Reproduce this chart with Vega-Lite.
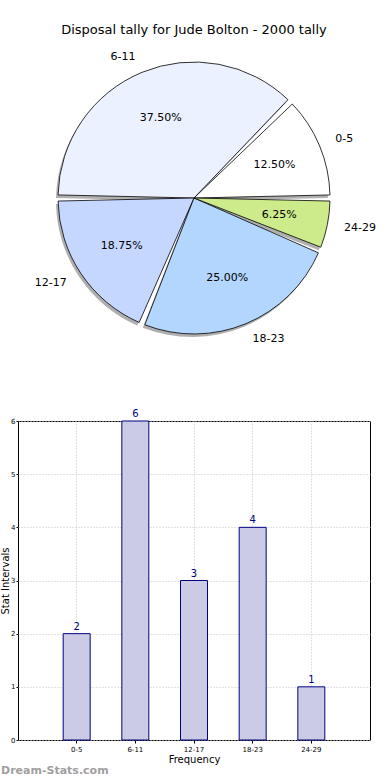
{
  "$schema": "https://vega.github.io/schema/vega-lite/v6.json",
  "padding": {"top": 24, "left": 0, "right": 0, "bottom": 0},
  "background": "white",
  "config": {"font": "DejaVu Sans"},
  "title": {"text": "Disposal tally for Jude Bolton - 2000 tally", "fontSize": 13, "fontWeight": "normal", "color": "black", "offset": 11, "anchor": "middle", "frame": "group"},
  "datasets": {
    "tally": [
      {"interval": "0-5", "lower": 0, "count": 2},
      {"interval": "6-11", "lower": 6, "count": 6},
      {"interval": "12-17", "lower": 12, "count": 3},
      {"interval": "18-23", "lower": 18, "count": 4},
      {"interval": "24-29", "lower": 24, "count": 1}
    ]
  },
  "spacing": 60,
  "vconcat": [
    {
      "width": 352,
      "height": 300,
      "view": {"stroke": null},
      "data": {"name": "tally"},
      "transform": [
        {"stack": "count", "groupby": [], "offset": "normalize", "sort": [{"field": "lower", "order": "descending"}], "as": ["t0", "t1"]},
        {"calculate": "(datum.t0 + datum.t1) / 2", "as": "tm"},
        {"calculate": "datum.t1 - datum.t0", "as": "share"}
      ],
      "layer": [
        {
          "mark": {"type": "arc", "outerRadius": 136, "padAngle": 0.045, "fill": "#7a7a7a", "opacity": 0.6, "xOffset": -2, "yOffset": 3},
          "encoding": {
            "theta": {"field": "t0", "type": "quantitative", "stack": null, "scale": {"domain": [0, 1], "range": [1.5707963, 7.8539816]}},
            "theta2": {"field": "t1"}
          }
        },
        {
          "mark": {"type": "arc", "outerRadius": 136, "padAngle": 0.045, "stroke": "black", "strokeWidth": 0.8},
          "encoding": {
            "theta": {"field": "t0", "type": "quantitative", "stack": null, "scale": {"domain": [0, 1], "range": [1.5707963, 7.8539816]}},
            "theta2": {"field": "t1"},
            "color": {"field": "interval", "type": "nominal", "legend": null, "scale": {"domain": ["0-5", "6-11", "12-17", "18-23", "24-29"], "range": ["#ffffff", "#ebf1ff", "#c5d7ff", "#b3d6ff", "#cdeb8b"]}}
          }
        },
        {
          "mark": {"type": "text", "radius": 87, "fontSize": 11, "color": "black", "align": "center", "baseline": "middle"},
          "encoding": {
            "theta": {"field": "tm", "type": "quantitative", "stack": null, "scale": {"domain": [0, 1], "range": [1.5707963, 7.8539816]}},
            "text": {"field": "share", "type": "quantitative", "format": ".2%"}
          }
        },
        {
          "transform": [{"filter": {"field": "interval", "oneOf": ["0-5", "24-29", "18-23"]}}],
          "mark": {"type": "text", "radius": 153, "fontSize": 11, "color": "black", "align": "left", "baseline": "middle"},
          "encoding": {
            "theta": {"field": "tm", "type": "quantitative", "stack": null, "scale": {"domain": [0, 1], "range": [1.5707963, 7.8539816]}},
            "text": {"field": "interval", "type": "nominal"}
          }
        },
        {
          "transform": [{"filter": {"field": "interval", "oneOf": ["6-11", "12-17"]}}],
          "mark": {"type": "text", "radius": 153, "fontSize": 11, "color": "black", "align": "right", "baseline": "middle"},
          "encoding": {
            "theta": {"field": "tm", "type": "quantitative", "stack": null, "scale": {"domain": [0, 1], "range": [1.5707963, 7.8539816]}},
            "text": {"field": "interval", "type": "nominal"}
          }
        }
      ]
    },
    {
      "width": 352,
      "height": 319,
      "view": {"stroke": "black", "strokeWidth": 1},
      "data": {"name": "tally"},
      "title": {"text": "Dream-Stats.com", "orient": "bottom", "anchor": "start", "frame": "group", "fontSize": 11, "fontWeight": "bold", "color": "#a0a0a0", "dx": -17, "offset": 1},
      "encoding": {
        "x": {
          "field": "interval", "type": "nominal",
          "sort": ["0-5", "6-11", "12-17", "18-23", "24-29"],
          "scale": {"paddingInner": 0.54, "paddingOuter": 0.77},
          "axis": {"title": "Frequency", "titleFontSize": 10, "titleFontWeight": "normal", "titleColor": "black", "titlePadding": 2, "labelFontSize": 7, "labelColor": "black", "labelAngle": 0, "labelPadding": 2, "tickSize": 3, "tickColor": "black", "domain": false, "grid": true, "gridColor": "#c4c4c4", "gridDash": [1, 2], "bandPosition": 0.5}
        },
        "y": {
          "field": "count", "type": "quantitative",
          "scale": {"domain": [0, 6], "nice": false},
          "axis": {"title": "Stat Intervals", "titleFontSize": 10, "titleFontWeight": "normal", "titleColor": "black", "titlePadding": 0, "values": [0, 1, 2, 3, 4, 5, 6], "labelFontSize": 7, "labelColor": "black", "labelPadding": 1, "tickSize": 2, "tickColor": "black", "domain": false, "grid": true, "gridColor": "#c4c4c4", "gridDash": [1, 2]}
        }
      },
      "layer": [
        {"mark": {"type": "bar", "fill": "#cbcbe6", "stroke": "#000080", "strokeWidth": 1}},
        {"mark": {"type": "text", "color": "#000080", "fontSize": 10, "baseline": "bottom", "dy": -2}, "encoding": {"text": {"field": "count", "type": "quantitative"}}}
      ]
    }
  ]
}
